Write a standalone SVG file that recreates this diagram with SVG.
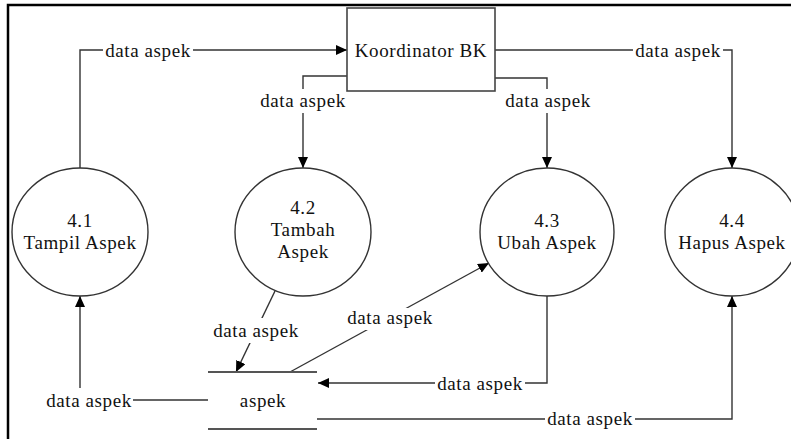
<svg xmlns="http://www.w3.org/2000/svg" width="791" height="439" viewBox="0 0 791 439">
  <defs>
    <marker id="arrow" markerUnits="userSpaceOnUse" markerWidth="11" markerHeight="10" refX="11" refY="5" orient="auto">
      <path d="M0,0 L11,5 L0,10 z" fill="#000"/>
    </marker>
    <style>
      text { font-family: "Liberation Serif", "Times New Roman", Tinos, "Noto Serif", "DejaVu Serif", FreeSerif, Georgia, serif; font-size: 19px; letter-spacing: 0.6px; fill: #111; text-anchor: middle; }
      .flow { fill: none; stroke: #333; stroke-width: 1.4; marker-end: url(#arrow); }
      .proc { fill: #fff; stroke: #333; stroke-width: 1.4; }
      .ext { fill: #fff; stroke: #444; stroke-width: 1.6; }
      .store { stroke: #555; stroke-width: 2; }
      .bg { fill: #fff; }
    </style>
  </defs>

  <!-- outer frame -->
  <rect x="8" y="5" width="800" height="460" fill="#fff" stroke="#000" stroke-width="2.5"/>

  <!-- data flows -->
  <g id="connectors">
    <path class="flow" d="M80,168 V50 H347"/>
    <path class="flow" d="M347,76 H303 V168"/>
    <path class="flow" d="M495,78 H547 V168"/>
    <path class="flow" d="M495,50 H732 V168"/>
    <path class="flow" d="M208,400 H80 V296"/>
    <path class="flow" d="M275,291 L236,372"/>
    <path class="flow" d="M290,372 L489,263"/>
    <path class="flow" d="M547,296 V383 H318"/>
    <path class="flow" d="M317,419 H732 V296"/>

    <!-- flow labels -->
    <g id="flow-labels">
      <rect class="bg" x="103" y="42" width="90" height="20"/>
      <text x="148" y="57">data aspek</text>
      <rect class="bg" x="258" y="89" width="90" height="24"/>
      <text x="303" y="107">data aspek</text>
      <rect class="bg" x="503" y="89" width="90" height="24"/>
      <text x="548" y="107">data aspek</text>
      <rect class="bg" x="633" y="42" width="90" height="20"/>
      <text x="678" y="57">data aspek</text>
      <rect class="bg" x="211" y="318" width="90" height="25"/>
      <text x="256" y="337">data aspek</text>
      <rect class="bg" x="345" y="308" width="90" height="22"/>
      <text x="390" y="324">data aspek</text>
      <rect class="bg" x="44" y="388" width="89" height="24"/>
      <text x="89" y="407">data aspek</text>
      <rect class="bg" x="435" y="375" width="90" height="20"/>
      <text x="480" y="390">data aspek</text>
      <rect class="bg" x="545" y="411" width="90" height="20"/>
      <text x="590" y="425">data aspek</text>
    </g>
  </g>

  <!-- external entity -->
  <g id="koordinator-bk">
    <rect class="ext" x="347" y="8" width="148" height="83"/>
    <text x="421" y="57">Koordinator BK</text>
  </g>

  <!-- processes -->
  <g id="p4-1">
    <ellipse class="proc" cx="80" cy="232" rx="68" ry="64"/>
    <text x="80" y="227">4.1</text>
    <text x="80" y="249">Tampil Aspek</text>
  </g>
  <g id="p4-2">
    <ellipse class="proc" cx="303" cy="232" rx="68" ry="64"/>
    <text x="303" y="214">4.2</text>
    <text x="303" y="236">Tambah</text>
    <text x="303" y="258">Aspek</text>
  </g>
  <g id="p4-3">
    <ellipse class="proc" cx="547" cy="232" rx="67" ry="64"/>
    <text x="547" y="227">4.3</text>
    <text x="547" y="249">Ubah Aspek</text>
  </g>
  <g id="p4-4">
    <ellipse class="proc" cx="732" cy="232" rx="67" ry="64"/>
    <text x="732" y="227">4.4</text>
    <text x="732" y="249">Hapus Aspek</text>
  </g>

  <!-- data store -->
  <g id="store-aspek">
    <line class="store" x1="208" y1="372" x2="317" y2="372"/>
    <line class="store" x1="208" y1="429" x2="317" y2="429"/>
    <text x="263" y="407">aspek</text>
  </g>
</svg>
